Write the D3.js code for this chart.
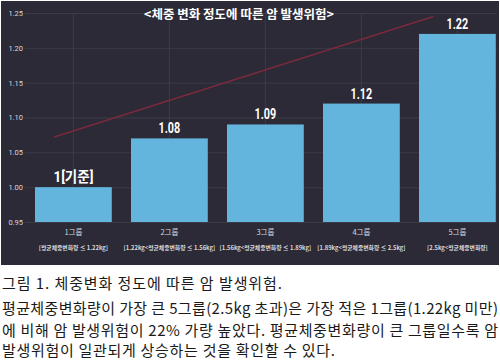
<!DOCTYPE html>
<html>
<head>
<meta charset="utf-8">
<script src="https://cdn.jsdelivr.net/npm/d3@7"></script>
<style>
  body { margin: 0; background: #fff; }
  svg { display: block; }
</style>
</head>
<body>
<svg width="500" height="362"></svg>
<script>
"use strict";

const groups = ["1그룹", "2그룹", "3그룹", "4그룹", "5그룹"];
const ranges = [
    "[평균체중변화량 ≤ 1.22kg]",
    "[1.22kg<평균체중변화량 ≤ 1.56kg]",
    "[1.56kg<평균체중변화량 ≤ 1.89kg]",
    "[1.89kg<평균체중변화량 ≤ 2.5kg]",
    "[2.5kg<평균체중변화량]"
];
const risk = [1.00, 1.07, 1.09, 1.12, 1.22];
const riskLabels = ["1[기준]", "1.08", "1.09", "1.12", "1.22"];
const yTicks = [0.95, 1.00, 1.05, 1.10, 1.15, 1.20, 1.25];
// decorative trend line: group index -> value
const trendIdx = [-0.2, 3.75];
const trendVal = [1.072, 1.245];

const title = "<체중 변화 정도에 따른 암 발생위험>";
const caption = [
    "그림 1. 체중변화 정도에 따른 암 발생위험.",
    "평균체중변화량이 가장 큰 5그룹(2.5kg 초과)은 가장 적은 1그룹(1.22kg 미만)",
    "에 비해 암 발생위험이 22% 가량 높았다. 평균체중변화량이 큰 그룹일수록 암",
    "발생위험이 일관되게 상승하는 것을 확인할 수 있다."
];

const svg = d3.select('svg');
const kr = "'Noto Sans CJK KR', 'Noto Sans', sans-serif";

// dark panel
svg.append('rect')
    .attr('x', 1).attr('y', 1)
    .attr('width', 498).attr('height', 264)
    .attr('fill', '#2b2a36');

const xScale = d3.scaleBand()
    .domain(groups)
    .range([25.4, 505.4])
    .paddingInner(0.2)
    .paddingOuter(0.1);

const yScale = d3.scaleLinear()
    .domain([0.95, 1.25])
    .range([222, 13]);

const idxScale = d3.scaleLinear()
    .domain([0, 1])
    .range([xScale(groups[0]) + xScale.bandwidth() / 2, xScale(groups[1]) + xScale.bandwidth() / 2]);

// horizontal grid
svg.append('g')
    .attr('transform', 'translate(25,0)')
    .call(d3.axisLeft(yScale).tickValues(yTicks).tickSize(-472).tickFormat(''))
    .call(g => g.select('.domain').remove())
    .call(g => g.selectAll('line').attr('stroke', '#3c3b49').attr('stroke-width', 1));

// vertical grid at group centers
svg.append('g')
    .selectAll('line')
    .data(groups)
    .enter()
    .append('line')
    .attr('x1', d => xScale(d) + xScale.bandwidth() / 2)
    .attr('x2', d => xScale(d) + xScale.bandwidth() / 2)
    .attr('y1', yScale(1.25))
    .attr('y2', yScale(0.95))
    .attr('stroke', '#3c3b49');

// y tick labels
svg.append('g')
    .attr('transform', 'translate(23,0)')
    .call(d3.axisLeft(yScale).tickValues(yTicks).tickSize(0).tickPadding(0).tickFormat(d3.format('.2f')))
    .call(g => g.select('.domain').remove())
    .call(g => g.selectAll('text')
        .attr('fill', '#d8d8dc')
        .attr('font-size', 7.5)
        .attr('font-family', "'Roboto', sans-serif"));

// bars
const barGroups = svg.selectAll('.bar')
    .data(groups)
    .enter()
    .append('g');

barGroups.append('rect')
    .attr('x', d => xScale(d))
    .attr('y', (d, i) => yScale(risk[i]))
    .attr('width', xScale.bandwidth())
    .attr('height', (d, i) => yScale(0.95) - yScale(risk[i]))
    .attr('fill', '#64b5dd');

// value labels, horizontally condensed
barGroups.append('text')
    .attr('transform', (d, i) => {
        const sx = /[가-힣]/.test(riskLabels[i]) ? 0.9 : 0.72;
        return `translate(${xScale(d) + xScale.bandwidth() / 2},${yScale(risk[i]) - 5}) scale(${sx},1)`;
    })
    .attr('text-anchor', 'middle')
    .attr('fill', '#ffffff')
    .attr('font-size', 15)
    .attr('font-weight', 'bold')
    .attr('font-family', "'Roboto', 'Noto Sans CJK KR', sans-serif")
    .text((d, i) => riskLabels[i]);

// group labels
barGroups.append('text')
    .attr('x', d => xScale(d) + xScale.bandwidth() / 2)
    .attr('y', 235)
    .attr('text-anchor', 'middle')
    .attr('fill', '#d8d8dc')
    .attr('font-size', 7.5)
    .attr('font-family', kr)
    .text(d => d);

barGroups.append('text')
    .attr('x', d => xScale(d) + xScale.bandwidth() / 2)
    .attr('y', 250)
    .attr('text-anchor', 'middle')
    .attr('fill', '#d8d8dc')
    .attr('font-size', 5.8)
    .attr('font-weight', 'bold')
    .attr('font-family', kr)
    .text((d, i) => ranges[i]);

// trend line
svg.append('line')
    .attr('x1', idxScale(trendIdx[0]))
    .attr('y1', yScale(trendVal[0]))
    .attr('x2', idxScale(trendIdx[1]))
    .attr('y2', yScale(trendVal[1]))
    .attr('stroke', '#7a2a3c')
    .attr('stroke-width', 1.5);

// title
svg.append('text')
    .attr('x', 239)
    .attr('y', 19)
    .attr('text-anchor', 'middle')
    .attr('fill', '#ffffff')
    .attr('font-size', 12.5)
    .attr('font-weight', 'bold')
    .attr('font-family', kr)
    .text(title);

// caption
const capY = [289, 314, 336, 356];
const capLen = [280, 496, 496, 333];
svg.append('g')
    .selectAll('text')
    .data(caption)
    .enter()
    .append('text')
    .attr('x', 2)
    .attr('y', (d, i) => capY[i])
    .attr('fill', '#1a1a1a')
    .attr('font-size', 15)
    .attr('font-family', kr)
    .attr('textLength', (d, i) => capLen[i])
    .attr('lengthAdjust', 'spacing')
    .text(d => d);
</script>
</body>
</html>
